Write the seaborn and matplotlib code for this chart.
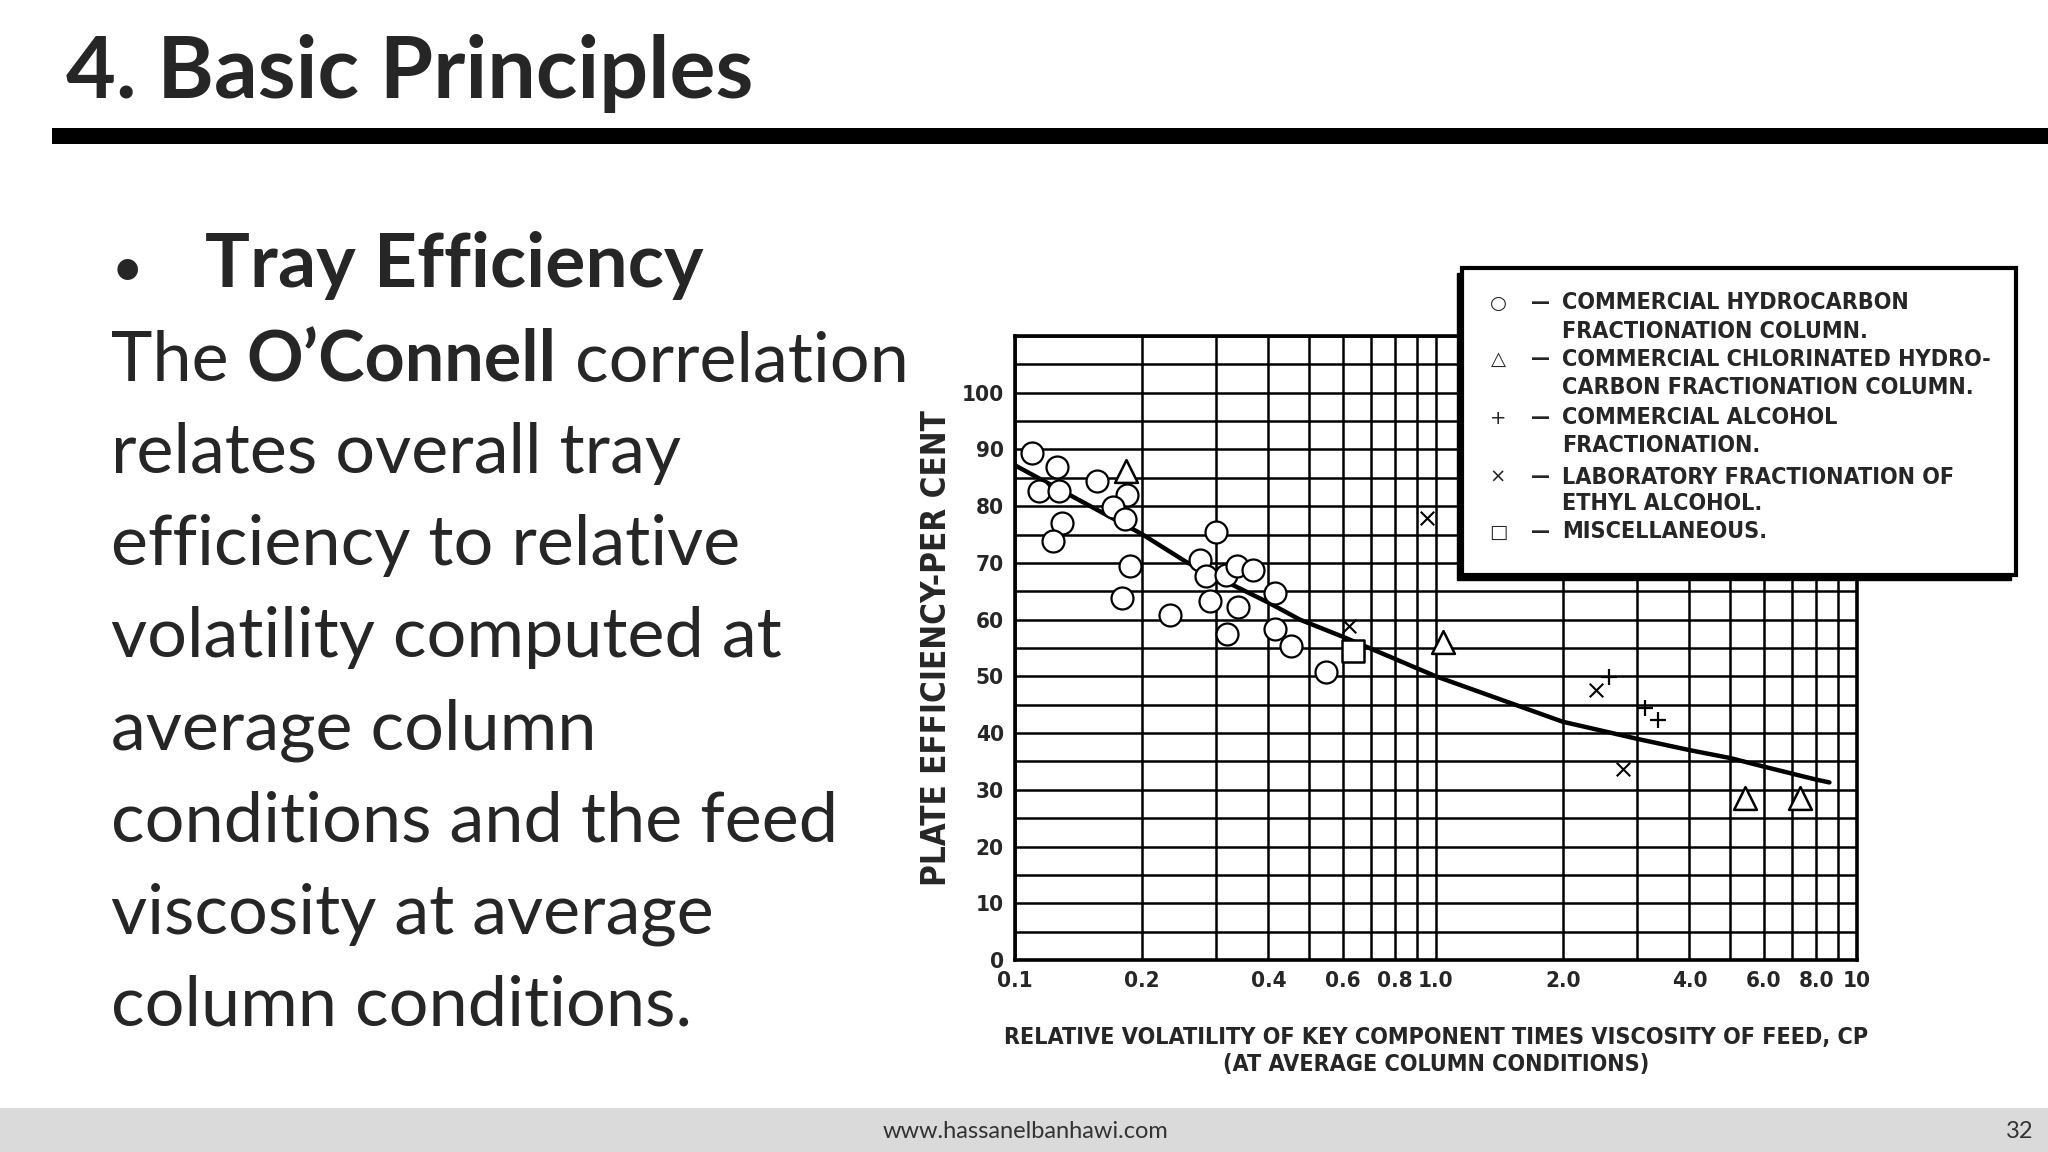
import matplotlib
matplotlib.use("Agg")
import matplotlib.pyplot as plt
from matplotlib import font_manager
from matplotlib.patches import Rectangle
from matplotlib.ticker import NullLocator
import numpy as np
import pandas
import seaborn


# points
HC_X = [0.110, 0.126, 0.114, 0.127, 0.157, 0.185, 0.171, 0.183, 0.129, 0.123,
        0.188, 0.180, 0.234, 0.301, 0.275, 0.285, 0.317, 0.336, 0.368, 0.290,
        0.338, 0.415, 0.318, 0.415, 0.452, 0.548]
HC_Y = [89.4, 86.9, 82.7, 82.7, 84.4, 81.9, 79.9, 77.7, 77.0, 73.9,
        69.4, 63.8, 60.8, 75.4, 70.6, 67.7, 67.8, 69.5, 68.8, 63.2,
        62.2, 64.7, 57.4, 58.3, 55.4, 50.8]
CHL_X = [0.184, 1.04, 5.42, 7.32]
CHL_Y = [86.2, 56.0, 28.5, 28.5]
ALC_X = [2.57, 3.14, 3.37]
ALC_Y = [49.9, 44.4, 42.3]
LAB_X = [0.62, 0.95, 2.40, 2.78]
LAB_Y = [58.9, 78.0, 47.6, 33.6]
MISC_X = [0.636]
MISC_Y = [54.4]
CURVE_X = [0.1, 0.2, 0.256, 0.4, 0.475, 0.6, 1.0, 2.0, 3.0, 4.0, 5.0, 6.0, 8.0, 8.6]
CURVE_Y = [87.2, 75.1, 70.1, 63.0, 60.0, 57.0, 50.0, 42.0, 39.0, 37.0, 35.6, 34.1, 31.8, 31.3]

XTICK_LABELS = {0.1: "0.1", 0.2: "0.2", 0.4: "0.4", 0.6: "0.6", 0.8: "0.8", 1.0: "1.0",
                2.0: "2.0", 4.0: "4.0", 6.0: "6.0", 8.0: "8.0", 10.0: "10"}

LEGEND_SYMBOLS = ["○", "", "△", "", "+", "", "×", "", "□"]
LEGEND_LINES = [
    "COMMERCIAL HYDROCARBON",
    "FRACTIONATION COLUMN.",
    "COMMERCIAL CHLORINATED HYDRO-",
    "CARBON FRACTIONATION COLUMN.",
    "COMMERCIAL ALCOHOL",
    "FRACTIONATION.",
    "LABORATORY FRACTIONATION OF",
    "ETHYL ALCOHOL.",
    "MISCELLANEOUS.",
]

BODY_LINES = [
    "relates overall tray",
    "efficiency to relative",
    "volatility computed at",
    "average column",
    "conditions and the feed",
    "viscosity at average",
    "column conditions.",
]

seaborn.set_theme(style="white")
plt.rcParams["font.family"] = ["Lato", "DejaVu Sans"]

# pick a narrow bold face for the chart texts
fonts = font_manager.fontManager.ttflist
names = {f.name for f in fonts}
COND_FAMILY = "Roboto"
COND_STRETCH = "normal"
COND_SCALE = 0.9
if "Liberation Sans Narrow" in names:
    COND_FAMILY, COND_SCALE = "Liberation Sans Narrow", 1.0
elif any("DejaVuSansCondensed" in f.fname for f in fonts):
    COND_FAMILY, COND_STRETCH, COND_SCALE = "DejaVu Sans", "condensed", 0.95
print("condensed font:", COND_FAMILY, COND_STRETCH)

W, H = 2048, 1152


def fx(x):
    return x / W


def fy(y):
    return 1 - y / H


def cond(size):
    return dict(fontsize=size * COND_SCALE, fontweight="bold", fontfamily=COND_FAMILY,
                fontstretch=COND_STRETCH)


fig = plt.figure(figsize=(20.48, 11.52), dpi=100)
fig.patch.set_facecolor("white")

# footer band
fig.add_artist(Rectangle((0, 0), 1, fy(1108), transform=fig.transFigure,
                         facecolor="#dadada", edgecolor="none", zorder=0))

# slide title and rule
fig.text(fx(66), fy(98), "4. Basic Principles", fontsize=62, fontweight="bold",
         va="baseline", ha="left")
fig.add_artist(Rectangle((fx(52), fy(144)), 1, 16 / H, transform=fig.transFigure,
                         facecolor="black", edgecolor="none"))

fig.text(fx(114), fy(284), "•", fontsize=34, fontweight="bold", va="baseline", ha="left")
fig.text(fx(205), fy(287), "Tray Efficiency", fontsize=54, fontweight="bold",
         va="baseline", ha="left")

# body text, first line has bold name in it
BODY_SIZE = 50.5
renderer = fig.canvas.get_renderer()
t_a = fig.text(0, 0, "a a", fontsize=BODY_SIZE)
t_b = fig.text(0, 0, "aa", fontsize=BODY_SIZE)
space_w = t_a.get_window_extent(renderer).width - t_b.get_window_extent(renderer).width
t_a.remove()
t_b.remove()

x_px = 111
t1 = fig.text(fx(x_px), fy(381), "The", fontsize=BODY_SIZE, va="baseline")
x_px += t1.get_window_extent(renderer).width + space_w
t2 = fig.text(fx(x_px), fy(381), "O’Connell", fontsize=BODY_SIZE, fontweight="bold", va="baseline")
x_px += t2.get_window_extent(renderer).width + space_w
fig.text(fx(x_px), fy(381), "correlation", fontsize=BODY_SIZE, va="baseline")

for i, line in enumerate(BODY_LINES):
    fig.text(fx(111), fy(381 + 92 * (i + 1)), line, fontsize=BODY_SIZE, va="baseline")

# footer text
fig.text(fx(1025), fy(1131), "www.hassanelbanhawi.com", fontsize=17, color="#333333",
         ha="center", va="center")
fig.text(fx(2020), fy(1131), "32", fontsize=17, color="#333333", ha="center", va="center")

# the chart
ax = fig.add_axes([fx(1015), fy(960), (1857 - 1015) / W, (960 - 336) / H])
ax.set_facecolor("white")

hc_df = pandas.DataFrame({"x": HC_X, "y": HC_Y})
chl_df = pandas.DataFrame({"x": CHL_X, "y": CHL_Y})
alc_df = pandas.DataFrame({"x": ALC_X, "y": ALC_Y})
lab_df = pandas.DataFrame({"x": LAB_X, "y": LAB_Y})
misc_df = pandas.DataFrame({"x": MISC_X, "y": MISC_Y})
curve_df = pandas.DataFrame({"x": CURVE_X, "y": CURVE_Y})

seaborn.lineplot(data=curve_df, x="x", y="y", color="black", linewidth=3.2, ax=ax, zorder=2)
seaborn.scatterplot(data=hc_df, x="x", y="y", marker="o", s=250, facecolor="white",
                    edgecolor="black", linewidth=1.6, ax=ax, zorder=3)
seaborn.scatterplot(data=chl_df, x="x", y="y", marker="^", s=270, facecolor="white",
                    edgecolor="black", linewidth=1.8, ax=ax, zorder=3)
seaborn.scatterplot(data=misc_df, x="x", y="y", marker="s", s=240, facecolor="white",
                    edgecolor="black", linewidth=1.8, ax=ax, zorder=3)
seaborn.scatterplot(data=alc_df, x="x", y="y", marker="+", s=140, color="black",
                    linewidth=1.6, ax=ax, zorder=3)
seaborn.scatterplot(data=lab_df, x="x", y="y", marker="x", s=95, color="black",
                    linewidth=1.5, ax=ax, zorder=3)

ax.set_xscale("log")
ax.set_xlim(0.1, 10)
ax.set_ylim(0, 110)

xgrid = np.concatenate([np.arange(1, 10) / 10, np.arange(1, 11)])
ax.set_xticks(xgrid, labels=[XTICK_LABELS.get(round(v, 1), "") for v in xgrid])
ax.xaxis.set_minor_locator(NullLocator())
ygrid = np.arange(0, 111, 5)
ax.set_yticks(ygrid, labels=[str(v) if v % 10 == 0 and v <= 100 else "" for v in ygrid])

ax.grid(True, color="black", linewidth=1.8)
ax.tick_params(length=0, pad=8)
for lab in ax.get_xticklabels() + ax.get_yticklabels():
    lab.set(**cond(17))
for s in ax.spines.values():
    s.set_color("black")
    s.set_linewidth(2.6)

ax.set_xlabel("RELATIVE VOLATILITY OF KEY COMPONENT TIMES VISCOSITY OF FEED, CP\n"
              "(AT AVERAGE COLUMN CONDITIONS)", linespacing=1.25, **cond(17.6))
ax.xaxis.set_label_coords(0.5, -0.105)
ax.set_ylabel("PLATE EFFICIENCY-PER CENT", **cond(25))
ax.yaxis.set_label_coords(-0.074, 0.5)

# legend box drawn over the top right corner
fig.add_artist(Rectangle((fx(1457), fy(580)), (2016 - 1462) / W, (575 - 268) / H,
                         transform=fig.transFigure, facecolor="black", edgecolor="black",
                         zorder=5))
fig.add_artist(Rectangle((fx(1462), fy(575)), (2016 - 1462) / W, (575 - 268) / H,
                         transform=fig.transFigure, facecolor="white", edgecolor="black",
                         linewidth=3, zorder=6))
row_y = [303, 332, 359, 388, 418, 445, 477, 504, 532]
for sym, line, ry in zip(LEGEND_SYMBOLS, LEGEND_LINES, row_y):
    if sym:
        fig.text(fx(1498), fy(ry), sym, fontsize=14, ha="center", va="center",
                 family=["DejaVu Sans"], zorder=7)
        fig.text(fx(1541), fy(ry), "—", ha="center", va="center", zorder=7, **cond(16))
    fig.text(fx(1562), fy(ry), line, ha="left", va="center", zorder=7, **cond(17.6))

fig.savefig("out.png", dpi=100)
